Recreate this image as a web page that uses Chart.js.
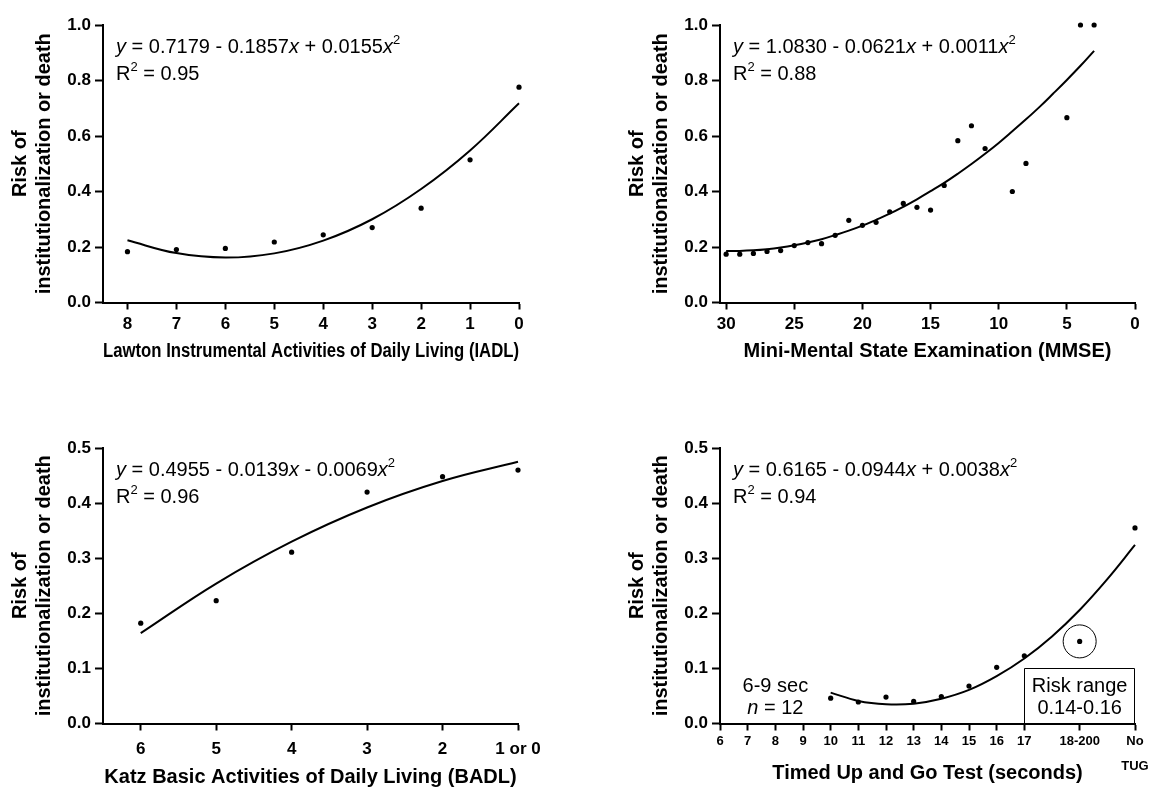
<!DOCTYPE html>
<html>
<head>
<meta charset="utf-8">
<script src="https://cdn.jsdelivr.net/npm/chart.js@4.4.1/dist/chart.umd.min.js"></script>
<style>
  html, body { margin: 0; padding: 0; background: #fff; overflow: hidden; }
  canvas { position: absolute; }
</style>
</head>
<body>
<canvas id="c1" width="560" height="390" style="left:0;top:0"></canvas>
<canvas id="c2" width="538" height="390" style="left:617px;top:0"></canvas>
<canvas id="c3" width="560" height="364" style="left:0;top:423px"></canvas>
<canvas id="c4" width="538" height="364" style="left:617px;top:423px"></canvas>
<script>
// --- data ---
const riskTicksTop = [0, 0.2, 0.4, 0.6, 0.8, 1.0];
const riskTicksBottom = [0, 0.1, 0.2, 0.3, 0.4, 0.5];

// IADL
const iadlX = [8, 7, 6, 5, 4, 3, 2, 1, 0];
const iadlRisk = [0.183, 0.191, 0.195, 0.218, 0.244, 0.270, 0.340, 0.514, 0.776];
const iadlFit = [0.224, 0.178, 0.162, 0.177, 0.223, 0.300, 0.409, 0.548, 0.718];
const iadlTicks = [8, 7, 6, 5, 4, 3, 2, 1, 0];

// MMSE
const mmseX = [30, 29, 28, 27, 26, 25, 24, 23, 22, 21, 20, 19, 18, 17, 16, 15, 14, 13, 12, 11, 9, 8, 5, 4, 3];
const mmseRisk = [0.174, 0.174, 0.177, 0.184, 0.187, 0.205, 0.216, 0.212, 0.242, 0.296, 0.278, 0.289,
  0.327, 0.357, 0.343, 0.333, 0.422, 0.583, 0.637, 0.555, 0.400, 0.501, 0.666, 1.000, 1.000];
const mmseFitX = [30, 29, 28, 27, 26, 25, 24, 23, 22, 21, 20, 19, 18, 17, 16, 15, 14, 13, 12, 11, 10, 9, 8, 7, 6, 5, 4, 3];
const mmseFit = [0.186, 0.186, 0.188, 0.192, 0.198, 0.206, 0.216, 0.228, 0.243, 0.259, 0.277, 0.298, 0.320, 0.345,
  0.372, 0.401, 0.431, 0.464, 0.499, 0.536, 0.575, 0.617, 0.660, 0.705, 0.753, 0.802, 0.853, 0.907];
const mmseTicks = [30, 25, 20, 15, 10, 5, 0];

// BADL
const badlX = [6, 5, 4, 3, 2, 1];
const badlLabels = ['6', '5', '4', '3', '2', '1 or 0'];
const badlRisk = [0.182, 0.223, 0.311, 0.420, 0.448, 0.460];
const badlFit = [0.164, 0.254, 0.330, 0.392, 0.440, 0.475];

// TUG
const tugX = [10, 11, 12, 13, 14, 15, 16, 17, 19, 21];
const tugRisk = [0.046, 0.039, 0.048, 0.040, 0.049, 0.068, 0.102, 0.123, 0.149, 0.355];
const tugFitX = [10, 11, 12, 13, 14, 15, 16, 17, 18, 19, 20, 21];
const tugFit = [0.056, 0.041, 0.035, 0.036, 0.045, 0.061, 0.086, 0.118, 0.158, 0.206, 0.262, 0.324];
const tugTicks = [6, 7, 8, 9, 10, 11, 12, 13, 14, 15, 16, 17, 19, 21];
const tugLabels = ['6', '7', '8', '9', '10', '11', '12', '13', '14', '15', '16', '17', '18-200', ['No', 'TUG']];
const circledX = [19];
const circledRisk = [0.149];
const riskBoxX = [17, 21];
const riskBoxY = [0, 0.1];

const FAMILY = "'Liberation Sans', Arial, Helvetica, sans-serif";
Chart.defaults.font.family = FAMILY;
Chart.defaults.color = '#000';

function pts(xs, ys) {
  return xs.map((x, i) => ({ x: x, y: ys[i] }));
}

// rich text: segments {t, i (italic), sup}
function drawRich(ctx, segs, x, y, align) {
  const fontFor = (s) => (s.i ? 'italic ' : '') + (s.sup ? 13 : 20) + 'px ' + FAMILY;
  let w = 0;
  segs.forEach((s) => { ctx.font = fontFor(s); w += ctx.measureText(s.t).width; });
  let cx = align === 'center' ? x - w / 2 : x;
  ctx.textAlign = 'left';
  ctx.textBaseline = 'middle';
  ctx.fillStyle = '#000';
  segs.forEach((s) => {
    ctx.font = fontFor(s);
    ctx.fillText(s.t, cx, s.sup ? y - 7 : y);
    cx += ctx.measureText(s.t).width;
  });
}

function notesPlugin(notes) {
  return {
    id: 'notes',
    afterDraw(chart) {
      const ctx = chart.ctx;
      const a = chart.chartArea;
      const sx = chart.scales.x, sy = chart.scales.y;
      ctx.save();
      drawRich(ctx, notes.eq, a.left + 13, a.top + 22, 'left');
      drawRich(ctx, notes.r2, a.left + 13, a.top + 49, 'left');
      (notes.texts || []).forEach((t) => {
        drawRich(ctx, t.segs, sx.getPixelForValue(t.x), sy.getPixelForValue(t.y), 'center');
      });
      if (notes.box) {
        const x1 = Math.round(sx.getPixelForValue(notes.box.x[0])) + 0.5;
        const x2 = Math.round(sx.getPixelForValue(notes.box.x[1])) - 0.5;
        const y1 = Math.round(sy.getPixelForValue(notes.box.y[1])) + 0.5;
        const y2 = Math.round(sy.getPixelForValue(notes.box.y[0]));
        ctx.strokeStyle = '#000';
        ctx.lineWidth = 1;
        ctx.beginPath();
        ctx.moveTo(x1, y2);
        ctx.lineTo(x1, y1);
        ctx.lineTo(x2, y1);
        ctx.lineTo(x2, y2);
        ctx.stroke();
      }
      ctx.restore();
    }
  };
}

function makePanel(id, o) {
  const canvas = document.getElementById(id);
  const W = canvas.width, H = canvas.height;
  const datasets = [
    {
      data: pts(o.x, o.y),
      showLine: false,
      pointRadius: 2.6,
      pointBackgroundColor: '#000',
      pointBorderWidth: 0,
      clip: false
    },
    {
      data: pts(o.fitX, o.fit),
      showLine: true,
      borderColor: '#000',
      borderWidth: 2,
      pointRadius: 0,
      tension: 0.4,
      fill: false,
      clip: false
    }
  ];
  if (o.circle) {
    datasets.push({
      data: pts(o.circle.x, o.circle.y),
      showLine: false,
      pointRadius: 16.5,
      pointBackgroundColor: 'rgba(0,0,0,0)',
      pointBorderColor: '#000',
      pointBorderWidth: 1,
      clip: false
    });
  }
  return new Chart(canvas.getContext('2d'), {
    type: 'scatter',
    data: { datasets: datasets },
    options: {
      responsive: false,
      animation: false,
      layout: { padding: { left: 0, top: 25, right: W - o.right, bottom: 0 } },
      plugins: { legend: { display: false }, tooltip: { enabled: false } },
      scales: {
        x: {
          type: 'linear',
          min: o.xMin,
          max: o.xMax,
          reverse: o.reverse,
          afterBuildTicks: (s) => { s.ticks = o.xTicks.map((v) => ({ value: v })); },
          afterFit: (s) => { s.height = H - o.bottom; },
          border: { display: true, color: '#000', width: 2 },
          grid: { drawOnChartArea: false, drawTicks: true, tickLength: 7, tickWidth: 2, tickColor: '#000' },
          ticks: {
            color: '#000',
            autoSkip: false,
            maxRotation: 0,
            minRotation: 0,
            padding: o.tickPad,
            font: { size: o.tickSize, weight: 'bold', lineHeight: o.tickLH || 1.2 },
            callback: (v) => o.xLabels[o.xTicks.indexOf(v)]
          },
          title: {
            display: true,
            text: o.xTitle,
            color: '#000',
            font: { size: 20, weight: 'bold', lineHeight: 1 },
            padding: { top: 0, bottom: o.titlePad }
          }
        },
        y: {
          type: 'linear',
          min: 0,
          max: o.yTicks[o.yTicks.length - 1],
          afterBuildTicks: (s) => { s.ticks = o.yTicks.map((v) => ({ value: v })); },
          afterFit: (s) => { s.width = 103; },
          border: { display: true, color: '#000', width: 2 },
          grid: { drawOnChartArea: false, drawTicks: true, tickLength: 8, tickWidth: 2, tickColor: '#000' },
          ticks: {
            color: '#000',
            padding: 4,
            font: { size: 17, weight: 'bold' },
            callback: (v) => v.toFixed(1)
          },
          title: {
            display: true,
            text: ['Risk of', 'institutionalization or death'],
            color: '#000',
            font: { size: 20, weight: 'bold', lineHeight: 1.2 },
            padding: { top: 8, bottom: 0 }
          }
        }
      }
    },
    plugins: [notesPlugin(o.notes)]
  });
}

makePanel('c1', {
  x: iadlX, y: iadlRisk, fitX: iadlX, fit: iadlFit,
  xMin: 0, xMax: 8.5, reverse: true,
  xTicks: iadlTicks, xLabels: iadlTicks.map(String),
  yTicks: riskTicksTop,
  right: 519, bottom: 302.5, tickPad: 5, tickSize: 17, titlePad: 29,
  xTitle: 'Lawton Instrumental Activities of Daily Living (IADL)',
  notes: {
    eq: [{ t: 'y', i: true }, { t: ' = 0.7179 - 0.1857' }, { t: 'x', i: true }, { t: ' + 0.0155' }, { t: 'x', i: true }, { t: '2', sup: true }],
    r2: [{ t: 'R' }, { t: '2', sup: true }, { t: ' = 0.95' }]
  }
});

makePanel('c2', {
  x: mmseX, y: mmseRisk, fitX: mmseFitX, fit: mmseFit,
  xMin: 0, xMax: 30.45, reverse: true,
  xTicks: mmseTicks, xLabels: mmseTicks.map(String),
  yTicks: riskTicksTop,
  right: 518, bottom: 302.5, tickPad: 5, tickSize: 17, titlePad: 29,
  xTitle: 'Mini-Mental State Examination (MMSE)',
  notes: {
    eq: [{ t: 'y', i: true }, { t: ' = 1.0830 - 0.0621' }, { t: 'x', i: true }, { t: ' + 0.0011' }, { t: 'x', i: true }, { t: '2', sup: true }],
    r2: [{ t: 'R' }, { t: '2', sup: true }, { t: ' = 0.88' }]
  }
});

makePanel('c3', {
  x: badlX, y: badlRisk, fitX: badlX, fit: badlFit,
  xMin: 1, xMax: 6.5, reverse: true,
  xTicks: badlX, xLabels: badlLabels,
  yTicks: riskTicksBottom,
  right: 518, bottom: 300.5, tickPad: 9, tickSize: 17, titlePad: 0,
  xTitle: 'Katz Basic Activities of Daily Living (BADL)',
  notes: {
    eq: [{ t: 'y', i: true }, { t: ' = 0.4955 - 0.0139' }, { t: 'x', i: true }, { t: ' - 0.0069' }, { t: 'x', i: true }, { t: '2', sup: true }],
    r2: [{ t: 'R' }, { t: '2', sup: true }, { t: ' = 0.96' }]
  }
});

makePanel('c4', {
  x: tugX, y: tugRisk, fitX: tugFitX, fit: tugFit,
  circle: { x: circledX, y: circledRisk },
  xMin: 6, xMax: 21, reverse: false,
  xTicks: tugTicks, xLabels: tugLabels,
  yTicks: riskTicksBottom,
  right: 518, bottom: 300.5, tickPad: -1, tickSize: 13, tickLH: 1.9, titlePad: 4,
  xTitle: 'Timed Up and Go Test (seconds)',
  notes: {
    eq: [{ t: 'y', i: true }, { t: ' = 0.6165 - 0.0944' }, { t: 'x', i: true }, { t: ' + 0.0038' }, { t: 'x', i: true }, { t: '2', sup: true }],
    r2: [{ t: 'R' }, { t: '2', sup: true }, { t: ' = 0.94' }],
    texts: [
      { x: 8, y: 0.067, segs: [{ t: '6-9 sec' }] },
      { x: 8, y: 0.028, segs: [{ t: 'n', i: true }, { t: ' = 12' }] },
      { x: 19, y: 0.067, segs: [{ t: 'Risk range' }] },
      { x: 19, y: 0.028, segs: [{ t: '0.14-0.16' }] }
    ],
    box: { x: riskBoxX, y: riskBoxY }
  }
});
</script>
</body>
</html>
